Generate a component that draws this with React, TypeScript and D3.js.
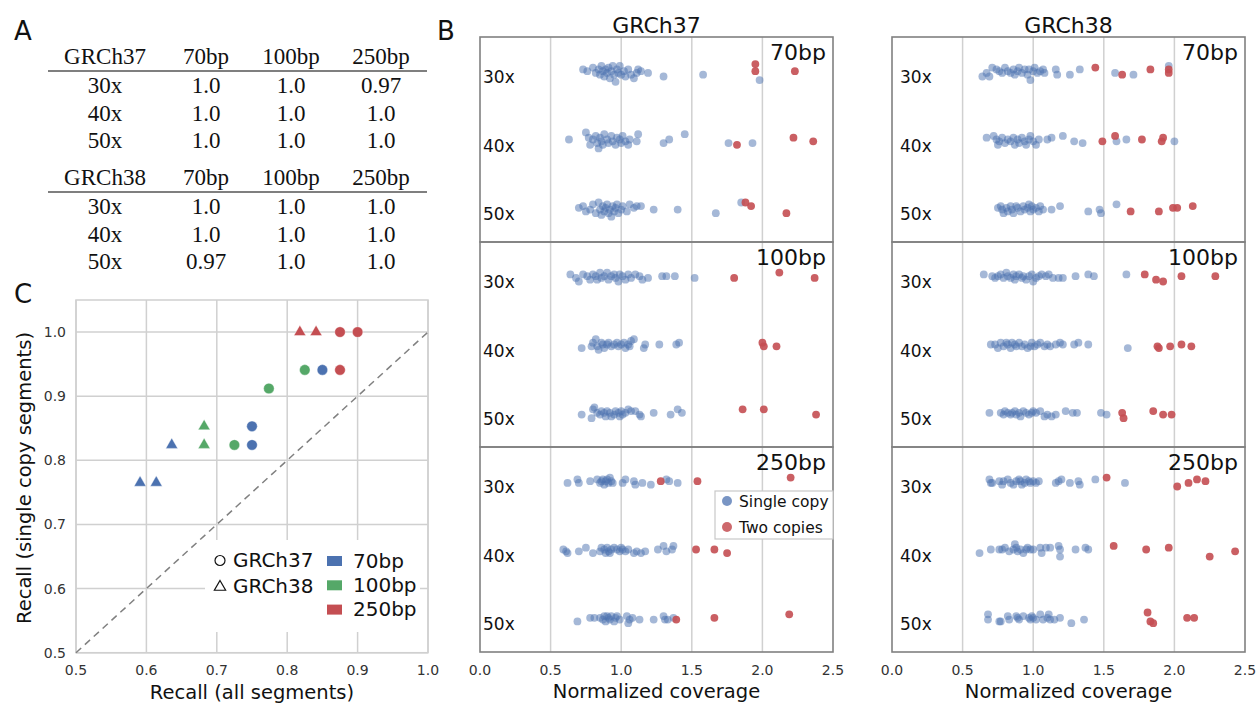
import React from "react";
import * as d3 from "d3";

// ---------------- shared categories ----------------
const genomes = ["GRCh37", "GRCh38"];
const readLengths = ["70bp", "100bp", "250bp"];
const coverages = ["30x", "40x", "50x"];

// ---------------- Panel A (table) ----------------
const tableHeader = ["70bp", "100bp", "250bp"];
const table37 = [
  ["1.0", "1.0", "0.97"],
  ["1.0", "1.0", "1.0"],
  ["1.0", "1.0", "1.0"],
];
const table38 = [
  ["1.0", "1.0", "1.0"],
  ["1.0", "1.0", "1.0"],
  ["0.97", "1.0", "1.0"],
];

// ---------------- Panel B (strip plots) ----------------
// each point: [normalized coverage, jitter offset]
const single_GRCh37_70bp: Record<string, number[][]> = {
  "30x": [[0.73,-1],[0.76,0],[0.80,-2],[0.82,1],[0.84,-1],[0.85,2],[0.86,-3],[0.87,0],[0.88,3],[0.89,-1],[0.90,1],[0.91,-2],[0.92,4],[0.93,0],[0.94,-3],[0.95,2],[0.96,6],[0.97,-1],[0.98,1],[0.99,-3],[1.00,2],[1.02,0],[1.03,3],[1.05,-1],[1.07,2],[1.09,4],[1.11,1],[1.12,-1],[1.14,0],[1.19,1],[1.30,3],[1.58,2],[1.98,5]],
  "40x": [[0.63,0],[0.75,-4],[0.77,-1],[0.78,3],[0.80,0],[0.82,-2],[0.83,2],[0.84,5],[0.85,-1],[0.86,1],[0.87,3],[0.88,-3],[0.90,0],[0.91,2],[0.93,-2],[0.94,1],[0.96,3],[0.97,-1],[0.99,0],[1.00,2],[1.01,-2],[1.03,1],[1.05,3],[1.06,0],[1.11,1],[1.12,-3],[1.30,2],[1.34,0],[1.45,-3],[1.76,2],[1.93,2]],
  "50x": [[0.70,0],[0.73,-1],[0.75,2],[0.78,1],[0.80,-2],[0.82,3],[0.84,-3],[0.85,1],[0.86,4],[0.87,-1],[0.88,2],[0.89,0],[0.90,-2],[0.91,3],[0.92,1],[0.93,5],[0.94,-1],[0.95,2],[0.96,0],[0.97,-2],[0.98,3],[1.00,1],[1.01,-1],[1.04,2],[1.06,-2],[1.09,0],[1.11,-1],[1.14,-1],[1.23,1],[1.40,1],[1.67,3],[1.85,-3]],
};
const double_GRCh37_70bp: Record<string, number[][]> = {
  "30x": [[1.95,-4],[1.95,0],[2.23,0]],
  "40x": [[1.82,3],[2.22,-1],[2.36,1]],
  "50x": [[1.88,-3],[1.92,-1],[2.17,3]],
};
const single_GRCh38_70bp: Record<string, number[][]> = {
  "30x": [[0.64,3],[0.67,1],[0.69,3],[0.71,-2],[0.74,-1],[0.76,0],[0.78,1],[0.80,-2],[0.82,0],[0.84,1],[0.86,-1],[0.87,2],[0.89,0],[0.90,-2],[0.92,1],[0.94,-1],[0.96,2],[0.97,-1],[0.98,5],[1.00,0],[1.01,-2],[1.03,1],[1.05,0],[1.07,-1],[1.08,1],[1.16,-1],[1.17,2],[1.26,2],[1.33,-1],[1.58,1],[1.71,2],[1.96,-3]],
  "40x": [[0.67,-1],[0.72,-2],[0.74,0],[0.75,3],[0.76,1],[0.78,-1],[0.80,2],[0.82,0],[0.84,1],[0.86,-1],[0.87,3],[0.89,0],[0.90,2],[0.92,-1],[0.94,1],[0.95,3],[0.97,0],[0.98,-2],[1.00,1],[1.02,3],[1.04,0],[1.10,0],[1.13,-1],[1.21,-2],[1.29,1],[1.35,2],[1.59,1],[1.66,0],[2.00,1]],
  "50x": [[0.75,0],[0.77,-1],[0.78,1],[0.79,3],[0.81,0],[0.82,2],[0.84,-1],[0.85,1],[0.86,3],[0.88,-1],[0.89,0],[0.91,2],[0.93,-1],[0.94,1],[0.96,0],[0.97,-2],[0.98,2],[0.99,-1],[1.00,1],[1.02,0],[1.04,2],[1.05,-1],[1.07,1],[1.13,1],[1.19,-1],[1.39,2],[1.47,1],[1.48,3],[1.59,-2]],
};
const double_GRCh38_70bp: Record<string, number[][]> = {
  "30x": [[1.44,-2],[1.63,2],[1.83,-1],[1.96,-1],[1.96,1]],
  "40x": [[1.49,1],[1.58,-2],[1.77,0],[1.91,1],[1.92,-1]],
  "50x": [[1.69,2],[1.89,2],[1.99,0],[2.02,0],[2.13,-1]],
};
const single_GRCh37_100bp: Record<string, number[][]> = {
  "30x": [[0.64,-1],[0.68,1],[0.70,3],[0.73,-1],[0.76,0],[0.78,2],[0.80,-1],[0.82,0],[0.83,2],[0.85,-2],[0.86,1],[0.88,0],[0.90,-2],[0.91,2],[0.93,0],[0.95,-1],[0.96,1],[0.98,3],[0.99,-1],[1.01,0],[1.03,2],[1.05,-1],[1.07,1],[1.10,-1],[1.13,0],[1.15,2],[1.19,1],[1.29,0],[1.32,0],[1.38,0],[1.52,1]],
  "40x": [[0.72,2],[0.79,1],[0.80,-1],[0.82,-3],[0.83,1],[0.84,3],[0.86,-1],[0.87,0],[0.88,2],[0.90,0],[0.91,-1],[0.93,1],[0.95,0],[0.97,-1],[0.98,1],[1.00,0],[1.02,-1],[1.03,2],[1.05,0],[1.06,1],[1.07,-2],[1.09,-3],[1.16,2],[1.17,0],[1.27,0],[1.39,0],[1.41,-1]],
  "50x": [[0.72,1],[0.79,3],[0.80,-2],[0.81,-3],[0.83,0],[0.85,1],[0.86,-1],[0.88,0],[0.89,2],[0.90,-1],[0.92,0],[0.93,2],[0.95,1],[0.96,-1],[0.98,0],[0.99,2],[1.00,-1],[1.01,1],[1.03,0],[1.05,-2],[1.07,-1],[1.10,-1],[1.13,1],[1.14,2],[1.23,0],[1.35,1],[1.40,-2],[1.43,0]],
};
const double_GRCh37_100bp: Record<string, number[][]> = {
  "30x": [[1.80,1],[2.12,-2],[2.37,1]],
  "40x": [[2.00,-1],[2.01,1],[2.10,1]],
  "50x": [[1.86,-2],[2.01,-2],[2.38,1]],
};
const single_GRCh38_100bp: Record<string, number[][]> = {
  "30x": [[0.65,-1],[0.71,0],[0.73,1],[0.75,0],[0.77,-1],[0.79,1],[0.81,-2],[0.82,0],[0.84,1],[0.86,-1],[0.87,2],[0.88,0],[0.90,-1],[0.92,1],[0.93,0],[0.95,2],[0.97,0],[0.99,-1],[1.00,3],[1.02,1],[1.04,0],[1.06,-1],[1.09,0],[1.11,-1],[1.14,1],[1.18,1],[1.21,1],[1.30,0],[1.39,-1],[1.43,0],[1.66,-1]],
  "40x": [[0.70,0],[0.73,0],[0.75,2],[0.77,-1],[0.79,1],[0.81,-1],[0.82,0],[0.84,2],[0.85,-1],[0.87,0],[0.88,1],[0.90,-1],[0.92,1],[0.94,0],[0.96,2],[0.98,1],[0.99,-1],[1.01,1],[1.03,0],[1.05,-1],[1.08,1],[1.10,0],[1.12,1],[1.16,0],[1.19,-1],[1.21,0],[1.29,0],[1.32,-1],[1.39,0],[1.67,2]],
  "50x": [[0.69,0],[0.77,0],[0.79,1],[0.80,-1],[0.82,0],[0.84,1],[0.85,0],[0.87,-1],[0.88,1],[0.90,0],[0.91,2],[0.93,-1],[0.95,0],[0.97,1],[0.99,0],[1.00,-1],[1.02,0],[1.05,-1],[1.08,2],[1.10,1],[1.13,2],[1.16,1],[1.23,-1],[1.28,0],[1.31,0],[1.48,0],[1.52,1]],
};
const double_GRCh38_100bp: Record<string, number[][]> = {
  "30x": [[1.79,-1],[1.87,2],[1.92,3],[2.05,0],[2.29,0]],
  "40x": [[1.88,1],[1.89,2],[1.97,1],[2.05,0],[2.12,1]],
  "50x": [[1.63,0],[1.64,3],[1.85,-1],[1.92,1],[1.98,1]],
};
const single_GRCh37_250bp: Record<string, number[][]> = {
  "30x": [[0.62,1],[0.69,-1],[0.70,1],[0.78,0],[0.83,-1],[0.85,1],[0.86,0],[0.87,-1],[0.88,2],[0.89,0],[0.90,-1],[0.91,1],[0.92,-2],[0.93,0],[0.94,1],[1.01,1],[1.03,-1],[1.09,0],[1.10,2],[1.15,1],[1.21,2],[1.32,-1],[1.34,0],[1.40,1]],
  "40x": [[0.59,0],[0.61,1],[0.62,2],[0.70,1],[0.75,-1],[0.80,2],[0.85,1],[0.86,-1],[0.88,0],[0.89,2],[0.90,-1],[0.91,1],[0.92,2],[0.93,0],[0.95,-1],[0.97,0],[0.99,1],[1.00,-1],[1.01,0],[1.03,1],[1.05,0],[1.09,2],[1.11,1],[1.14,2],[1.17,1],[1.26,0],[1.30,-2],[1.32,1],[1.36,0],[1.37,-2]],
  "50x": [[0.69,2],[0.78,0],[0.81,0],[0.85,0],[0.87,1],[0.88,-1],[0.89,2],[0.90,-1],[0.91,0],[0.92,1],[0.93,-1],[0.95,2],[0.96,0],[0.97,-1],[0.99,1],[1.04,-1],[1.05,3],[1.06,1],[1.08,0],[1.13,1],[1.23,1],[1.30,-1],[1.31,1],[1.33,1],[1.37,0]],
};
const double_GRCh37_250bp: Record<string, number[][]> = {
  "30x": [[1.28,0],[1.54,0],[2.20,-2]],
  "40x": [[1.53,0],[1.66,0],[1.75,2]],
  "50x": [[1.39,1],[1.66,0],[2.19,-2]],
};
const single_GRCh38_250bp: Record<string, number[][]> = {
  "30x": [[0.69,-1],[0.70,1],[0.71,1],[0.76,0],[0.78,2],[0.79,0],[0.82,-1],[0.84,1],[0.86,2],[0.88,0],[0.90,-1],[0.91,0],[0.92,2],[0.94,1],[0.95,-1],[0.97,0],[0.98,1],[1.00,0],[1.02,1],[1.04,0],[1.16,1],[1.18,0],[1.20,-1],[1.26,1],[1.32,0],[1.33,2],[1.44,-1],[1.65,1]],
  "40x": [[0.62,2],[0.70,0],[0.76,0],[0.78,0],[0.80,-1],[0.83,1],[0.86,0],[0.87,-3],[0.88,-1],[0.89,1],[0.91,0],[0.93,2],[0.95,0],[0.96,-1],[0.98,0],[1.00,0],[1.05,-1],[1.06,2],[1.09,-1],[1.12,-1],[1.18,-2],[1.19,0],[1.19,4],[1.30,0],[1.37,-1],[1.39,0]],
  "50x": [[0.68,-2],[0.68,1],[0.76,2],[0.77,2],[0.82,-1],[0.83,1],[0.88,-1],[0.89,0],[0.90,1],[0.93,-1],[0.97,0],[0.98,1],[0.99,-1],[1.00,0],[1.02,1],[1.05,-2],[1.07,1],[1.10,0],[1.11,-2],[1.12,1],[1.15,1],[1.19,0],[1.27,3],[1.36,1]],
};
const double_GRCh38_250bp: Record<string, number[][]> = {
  "30x": [[1.52,-2],[2.02,3],[2.10,1],[2.16,-1],[2.22,0]],
  "40x": [[1.57,-2],[1.80,0],[1.96,-1],[2.25,4],[2.43,1]],
  "50x": [[1.81,-3],[1.83,2],[1.85,3],[2.09,0],[2.14,0]],
};

const singleCopy: Record<string, Record<string, Record<string, number[][]>>> = {
  GRCh37: { "70bp": single_GRCh37_70bp, "100bp": single_GRCh37_100bp, "250bp": single_GRCh37_250bp },
  GRCh38: { "70bp": single_GRCh38_70bp, "100bp": single_GRCh38_100bp, "250bp": single_GRCh38_250bp },
};
const twoCopies: Record<string, Record<string, Record<string, number[][]>>> = {
  GRCh37: { "70bp": double_GRCh37_70bp, "100bp": double_GRCh37_100bp, "250bp": double_GRCh37_250bp },
  GRCh38: { "70bp": double_GRCh38_70bp, "100bp": double_GRCh38_100bp, "250bp": double_GRCh38_250bp },
};
const coverageTicks = [0, 0.5, 1.0, 1.5, 2.0, 2.5];

// ---------------- Panel C (recall scatter) ----------------
const cGenome = ["GRCh37","GRCh37","GRCh37","GRCh37","GRCh37","GRCh37","GRCh37","GRCh37","GRCh37","GRCh38","GRCh38","GRCh38","GRCh38","GRCh38","GRCh38","GRCh38"];
const cLength = ["70bp","70bp","70bp","100bp","100bp","100bp","250bp","250bp","250bp","70bp","70bp","70bp","100bp","100bp","250bp","250bp"];
const cRecallAll = [0.85, 0.75, 0.75, 0.825, 0.774, 0.725, 0.875, 0.9, 0.875, 0.636, 0.591, 0.614, 0.682, 0.682, 0.818, 0.841];
const cRecallSingle = [0.941, 0.853, 0.824, 0.941, 0.912, 0.824, 1.0, 1.0, 0.941, 0.824, 0.765, 0.765, 0.853, 0.824, 1.0, 1.0];
const recallTicks = [0.5, 0.6, 0.7, 0.8, 0.9, 1.0];

// ---------------- styling ----------------
const BLUE = "#4C72B0";
const GREEN = "#55A868";
const RED = "#C44E52";
const lengthColor: Record<string, string> = { "70bp": BLUE, "100bp": GREEN, "250bp": RED };
const SANS = "DejaVu Sans, sans-serif";
const SERIF = "Liberation Serif, Times New Roman, serif";
const GRID = "#d0d0d0";
const TICK = "#333";

function PanelA() {
  const colX = [105, 206, 291, 381];
  const blocks = [
    { name: "GRCh37", rows: table37, top: 0 },
    { name: "GRCh38", rows: table38, top: 121 },
  ];
  return (
    <g fontFamily={SERIF} fontSize={23} fill="#111" textAnchor="middle">
      {blocks.map((b) => (
        <g key={b.name} transform={`translate(0,${b.top})`}>
          <text x={colX[0]} y={64}>{b.name}</text>
          {tableHeader.map((h, i) => (
            <text key={h} x={colX[i + 1]} y={64}>{h}</text>
          ))}
          <line x1={48} x2={427} y1={71} y2={71} stroke="#555" strokeWidth={1.5} />
          {b.rows.map((r, ri) => (
            <g key={ri}>
              <text x={colX[0]} y={93 + ri * 27.5}>{coverages[ri]}</text>
              {r.map((v, ci) => (
                <text key={ci} x={colX[ci + 1]} y={93 + ri * 27.5}>{v}</text>
              ))}
            </g>
          ))}
        </g>
      ))}
    </g>
  );
}

function PanelB() {
  const xRanges: Record<string, [number, number]> = { GRCh37: [480, 833], GRCh38: [892, 1245] };
  const labelX: Record<string, number> = { GRCh37: 483, GRCh38: 900 };
  const top0 = 37;
  const panelH = 205;
  const bottom = top0 + panelH * 3;
  return (
    <g fontFamily={SANS}>
      {genomes.map((g) => {
        const x = d3.scaleLinear().domain([0, 2.5]).range(xRanges[g]);
        const [xl, xr] = xRanges[g];
        return (
          <g key={g}>
            <text x={(xl + xr) / 2} y={33} textAnchor="middle" fontSize={22} fill="#111">{g}</text>
            {coverageTicks.filter((t) => t > 0 && t < 2.5).map((t) => (
              <line key={t} x1={x(t)} x2={x(t)} y1={top0} y2={bottom} stroke={GRID} strokeWidth={1.5} />
            ))}
            {readLengths.map((len, li) => {
              const top = top0 + li * panelH;
              const y = d3.scaleBand().domain(coverages).range([top, top + panelH]);
              const bw = y.bandwidth();
              const cy = (c: string, j: number) => (y(c) as number) + bw / 2 + j * bw * 0.026;
              return (
                <g key={len}>
                  {coverages.map((c) => (
                    <g key={c}>
                      {singleCopy[g][len][c].map((p, i) => (
                        <circle key={"s" + i} cx={x(p[0])} cy={cy(c, p[1])} r={3.9} fill={BLUE} fillOpacity={0.5} />
                      ))}
                      {twoCopies[g][len][c].map((p, i) => (
                        <circle key={"d" + i} cx={x(p[0])} cy={cy(c, p[1])} r={3.9} fill={RED} fillOpacity={0.9} />
                      ))}
                      <text x={labelX[g]} y={(y(c) as number) + bw / 2 + 12} fontSize={17} fill="#111">{c}</text>
                    </g>
                  ))}
                  <text x={xr - 7} y={top + 23} textAnchor="end" fontSize={22} fill="#111">{len}</text>
                  <rect x={xl} y={top} width={xr - xl} height={panelH} fill="none" stroke="#808080" strokeWidth={1.6} />
                </g>
              );
            })}
            {coverageTicks.map((t) => (
              <text key={t} x={x(t)} y={675} textAnchor="middle" fontSize={14} fill={TICK}>{t.toFixed(1)}</text>
            ))}
            <text x={(xl + xr) / 2} y={698} textAnchor="middle" fontSize={19.5} fill="#111">Normalized coverage</text>
          </g>
        );
      })}
      {/* legend */}
      <g>
        <rect x={715} y={491} width={118} height={48} fill="white" stroke="#c8c8c8" strokeWidth={1.2} />
        <circle cx={727} cy={501} r={5} fill={BLUE} fillOpacity={0.75} />
        <text x={739} y={506.5} fontSize={15.5} fill="#111">Single copy</text>
        <circle cx={727} cy={527} r={5} fill={RED} fillOpacity={0.85} />
        <text x={739} y={532.5} fontSize={15.5} fill="#111">Two copies</text>
      </g>
    </g>
  );
}

function PanelC() {
  const x = d3.scaleLinear().domain([0.5, 1.0]).range([76, 428]);
  const y = d3.scaleLinear().domain([0.5, 1.05]).range([652.7, 300]);
  const tri = d3.symbol(d3.symbolTriangle, 62)() as string;
  const triLegend = d3.symbol(d3.symbolTriangle, 55)() as string;
  const idx = d3.range(cGenome.length);
  return (
    <g fontFamily={SANS}>
      <rect x={76} y={300} width={352} height={352.7} fill="white" />
      {recallTicks.map((t) => (
        <line key={"gx" + t} x1={x(t)} x2={x(t)} y1={300} y2={652.7} stroke={GRID} strokeWidth={1.5} />
      ))}
      {recallTicks.map((t) => (
        <line key={"gy" + t} x1={76} x2={428} y1={y(t)} y2={y(t)} stroke={GRID} strokeWidth={1.5} />
      ))}
      <rect x={76} y={300} width={352} height={352.7} fill="none" stroke={GRID} strokeWidth={1.5} />
      <line x1={x(0.5)} y1={y(0.5)} x2={x(1.0)} y2={y(1.0)} stroke="#808080" strokeWidth={1.5} strokeDasharray="7,5" />
      {idx.map((i) => {
        const px = x(cRecallAll[i]);
        const py = y(cRecallSingle[i]);
        const col = lengthColor[cLength[i]];
        return cGenome[i] === "GRCh37" ? (
          <circle key={i} cx={px} cy={py} r={5.3} fill={col} stroke="white" strokeWidth={0.4} />
        ) : (
          <path key={i} d={tri} transform={`translate(${px},${py})`} fill={col} stroke="white" strokeWidth={0.4} />
        );
      })}
      {recallTicks.map((t) => (
        <text key={"tx" + t} x={x(t)} y={675} textAnchor="middle" fontSize={14} fill={TICK}>{t.toFixed(1)}</text>
      ))}
      {recallTicks.map((t) => (
        <text key={"ty" + t} x={66} y={y(t) + 5} textAnchor="end" fontSize={14} fill={TICK}>{t.toFixed(1)}</text>
      ))}
      <text x={252} y={699} textAnchor="middle" fontSize={19.5} fill="#111">Recall (all segments)</text>
      <text transform="translate(31,478) rotate(-90)" textAnchor="middle" fontSize={19.5} fill="#111">Recall (single copy segments)</text>
      {/* legend */}
      <rect x={205} y={540} width={215} height={92} fill="white" />
      <circle cx={220} cy={560.5} r={5} fill="none" stroke="#111" strokeWidth={1.2} />
      <text x={233} y={567} fontSize={20} fill="#111">GRCh37</text>
      <path d={triLegend} transform="translate(220,587)" fill="none" stroke="#111" strokeWidth={1.2} />
      <text x={233} y={592.5} fontSize={20} fill="#111">GRCh38</text>
      {readLengths.map((len, i) => (
        <g key={len}>
          <rect x={327} y={556 + i * 24.3} width={15} height={10} fill={lengthColor[len]} />
          <text x={353} y={567.5 + i * 24.3} fontSize={20} fill="#111">{len}</text>
        </g>
      ))}
    </g>
  );
}

export default function App() {
  return (
    <div style={{ position: "absolute", left: 0, top: 0 }}>
      <svg width={1259} height={707} style={{ display: "block", background: "white" }}>
        <rect x={0} y={0} width={1259} height={707} fill="white" />
        <g fontFamily={SANS} fontSize={26} fill="#111">
          <text x={14} y={40}>A</text>
          <text x={437} y={40}>B</text>
          <text x={14} y={303}>C</text>
        </g>
        <PanelA />
        <PanelC />
        <PanelB />
      </svg>
    </div>
  );
}
